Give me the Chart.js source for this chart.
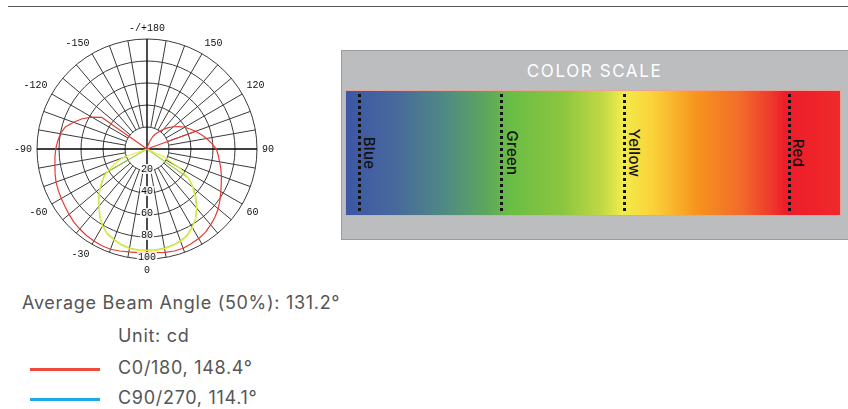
<!DOCTYPE html>
<html>
<head>
<meta charset="utf-8">
<script src="https://cdn.jsdelivr.net/npm/chart.js@4.4.1/dist/chart.umd.min.js"></script>
<style>
  html, body { margin: 0; padding: 0; }
  body { width: 848px; height: 409px; background: #fff; position: relative; overflow: hidden;
         font-family: Inter, "Open Sans", sans-serif; color: #555; }
  #topline { position: absolute; left: 8px; right: 0; top: 6px; height: 1px; background: #555; }
  #polarWrap { position: absolute; left: 0; top: 22px; width: 290px; height: 254px; }
  .txt { position: absolute; font-size: 18px; line-height: 18px; white-space: nowrap; color: #555; letter-spacing: 0.7px; }
  .swatch { position: absolute; left: 30px; width: 70px; height: 3px; }
  #scaleBox { position: absolute; left: 341px; top: 50px; width: 520px; height: 188px;
              background: #bcbdbf; border: 1px solid #9b9b9b; }
  #scaleTitle { position: absolute; left: 341px; width: 507px; top: 63px; text-align: center;
                color: #fff; font-size: 17px; line-height: 17px; letter-spacing: 1.6px; font-weight: 400; }
  #gradBar { position: absolute; left: 345px; top: 90px; width: 496px; height: 126px;
             border: 1px solid #e3a59c; box-sizing: border-box;
             background: linear-gradient(to right,
               #3d56a6 0%, #48699c 10%, #4f8a84 20%, #5ea95a 29%, #69bd45 33%,
               #8cc63f 44%, #c2d945 52%, #f1ec4b 56%, #fbd23a 62%, #f8b02a 67%,
               #f7941d 71%, #f26b2b 80%, #ee3a2c 86%, #ed1c2a 89%, #ef2a2a 100%); }
  .dots { position: absolute; top: 94px; height: 120px; width: 3px;
          background: repeating-linear-gradient(to bottom, #111 0 3px, rgba(0,0,0,0) 3px 6px); }
  .vlabel { position: absolute; top: 153px; writing-mode: vertical-rl; transform: translate(-50%, -50%);
            font-size: 15px; color: #111; font-weight: 500; line-height: 15px; letter-spacing: 0.3px; }
</style>
</head>
<body>
<div id="topline"></div>

<div id="polarWrap"><canvas id="polar"></canvas></div>

<div class="txt" style="left:22px; top:294px;">Average Beam Angle (50%): 131.2°</div>
<div class="txt" style="left:118px; top:327px;">Unit: cd</div>
<div class="swatch" style="top:368px; background:#f04a3a;"></div>
<div class="txt" style="left:118px; top:359px;">C0/180, 148.4°</div>
<div class="swatch" style="top:398px; background:#1eaae7;"></div>
<div class="txt" style="left:118px; top:389px;">C90/270, 114.1°</div>

<div id="scaleBox"></div>
<div id="scaleTitle">COLOR SCALE</div>
<div id="gradBar"></div>
<div class="dots" style="left:358px;"></div>
<div class="dots" style="left:500px;"></div>
<div class="dots" style="left:623px;"></div>
<div class="dots" style="left:788px;"></div>
<div class="vlabel" style="left:369px;">Blue</div>
<div class="vlabel" style="left:512px;">Green</div>
<div class="vlabel" style="left:634px;">Yellow</div>
<div class="vlabel" style="left:798px;">Red</div>

<script>
// Gamma angles (degrees), clockwise from the top (180) through 90 (right), 0 (bottom), -90 (left)
const angles = [180,175,170,165,160,155,150,145,140,135,130,125,120,115,110,105,100,95,
                90,85,80,75,70,65,60,55,50,45,40,35,30,25,20,15,10,5,
                0,-5,-10,-15,-20,-25,-30,-35,-40,-45,-50,-55,-60,-65,-70,-75,-80,-85,
                -90,-95,-100,-105,-110,-115,-120,-125,-130,-135,-140,-145,-150,-155,-160,-165,-170,-175];

// Angle labels shown around the diagram
const angleLabels = {"180":"-/+180","150":"150","120":"120","90":"90","60":"60","0":"0",
                     "-30":"-30","-60":"-60","-90":"-90","-120":"-120","-150":"-150"};

// Ring values
const ringTicks = [20, 40, 60, 80, 100];

// C0/180 curve (red)
const c0_180 = [0,0,1,3,7,12.5,16,19.5,23.5,27.5,31.5,35.5,39.5,43,47,51,55,59,
                63,65,67,69.5,72,74.5,77.5,81,84.5,87.5,90,92.5,94,95,96,96,95.5,94.5,
                94,94.5,95,96,97,97,96.5,96,95,94,92.5,91,90,89,88,86.5,85,84,
                83,81.5,80,77,71,65,58,50,0,0,0,0,0,0,0,0,0,0];

// C0/180 closing stroke back to the centre (red)
const c0_180_edge = [null,null,null,null,null,null,null,null,null,null,null,null,null,0,48,null,null,null,
                     null,null,null,null,null,null,null,null,null,null,null,null,null,null,null,null,null,null,
                     null,null,null,null,null,null,null,null,null,null,null,null,null,null,null,null,null,null,
                     null,null,null,null,null,null,null,null,null,null,null,null,null,null,null,null,null,null];

// C90/270 curve (yellow)
const c90_270 = [0,0,0,0,0,0,0,0,0,0,0,0,0,0,0,0,0,0,
                 0,0,0,0,0,17,34,46,54,62,70,77,82.5,87,89.5,91,92,92.5,
                 92.5,92.5,92,90.5,88,85.5,81,74.5,67.5,62,56,50,42,33,24,0,0,0,
                 0,0,0,0,0,0,0,0,0,0,0,0,0,0,0,0,0,0];

// C90/270 second trace (green)
const c90_270b = [0,0,0,0,0,0,0,0,0,0,0,0,0,0,0,0,0,0,
                  0,0,0,0,0,0,0,46,55,63,70.5,77,82,86.5,89,90.5,91.5,92,
                  92,92,91.5,90,87.5,85,80.5,75,68,62,55.5,49,44,0,0,0,0,0,
                  0,0,0,0,0,0,0,0,0,0,0,0,0,0,0,0,0,0];

const ringLabelPlugin = {
  id: 'ringLabels',
  afterDatasetsDraw(chart) {
    const r = chart.scales.r;
    const ctx = chart.ctx;
    const idx = angles.indexOf(0);
    ctx.save();
    ctx.font = '10px "Liberation Mono", monospace';
    ctx.textAlign = 'center';
    ctx.textBaseline = 'middle';
    ringTicks.forEach(v => {
      const p = r.getPointPosition(idx, r.getDistanceFromCenterForValue(v));
      const s = String(v);
      const w = ctx.measureText(s).width;
      ctx.fillStyle = 'rgba(255,255,255,0.85)';
      ctx.fillRect(p.x - w / 2 - 1, p.y - 2 - 5, w + 2, 10);
      ctx.fillStyle = '#111';
      ctx.fillText(s, p.x, p.y - 2);
    });
    ctx.restore();
  }
};

function isSpoke(i) { return angles[i] % 10 === 0; }
function isAxis(i) { return angles[i] % 90 === 0; }

new Chart(document.getElementById('polar'), {
  type: 'radar',
  data: {
    labels: angles,
    datasets: [
      { label: 'C0/180', data: c0_180, borderColor: '#e63b34', borderWidth: 1.2, pointRadius: 0, fill: false, tension: 0 },
      { label: 'C0/180 edge', data: c0_180_edge, borderColor: '#e63b34', borderWidth: 1.2, pointRadius: 0, fill: false, spanGaps: false },
      { label: 'C90/270', data: c90_270, borderColor: '#e8ee3c', borderWidth: 1.2, pointRadius: 0, fill: false, tension: 0 },
      { label: 'C90/270 b', data: c90_270b, borderColor: '#9fd04a', borderWidth: 1.2, pointRadius: 0, fill: false, tension: 0 }
    ]
  },
  options: {
    responsive: true,
    maintainAspectRatio: false,
    animation: false,
    layout: { padding: 0 },
    plugins: { legend: { display: false }, tooltip: { enabled: false } },
    elements: { line: { borderJoinStyle: 'round' } },
    scales: {
      r: {
        min: 0, max: 100, startAngle: 0,
        ticks: { display: false, stepSize: 20 },
        grid: { circular: true, color: '#3a3a3a', lineWidth: 1 },
        angleLines: {
          display: true,
          color: (c) => isAxis(c.index) ? '#000' : '#3a3a3a',
          lineWidth: (c) => isSpoke(c.index) ? (isAxis(c.index) ? 1.4 : 1) : 0,
          borderDash: (c) => {
            if (isAxis(c.index)) return [];
            const d = c.chart.scales.r.getDistanceFromCenterForValue(20);
            return [0, d, 2000, 0];
          }
        },
        pointLabels: {
          display: true,
          padding: 5,
          color: '#111',
          font: { family: '"Liberation Mono", monospace', size: 10 },
          callback: (l) => angleLabels[String(l)] || ''
        }
      }
    }
  },
  plugins: [ringLabelPlugin]
});
</script>
</body>
</html>
